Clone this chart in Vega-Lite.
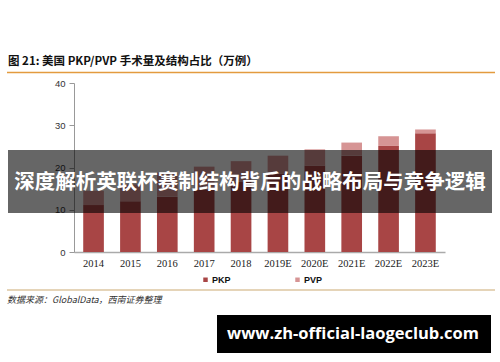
{
  "$schema": "https://vega.github.io/schema/vega-lite/v6.json",
  "width": 371,
  "height": 169,
  "autosize": {"type": "none"},
  "padding": {"left": 74, "top": 83, "right": 55, "bottom": 110},
  "background": "white",
  "config": {"view": {"stroke": null}},
  "layer": [
    {
      "data": {
        "values": [
          {"year": "2014", "type": "PKP", "value": 11.1},
          {"year": "2014", "type": "PVP", "value": 3.4},
          {"year": "2015", "type": "PKP", "value": 12.0},
          {"year": "2015", "type": "PVP", "value": 4.0},
          {"year": "2016", "type": "PKP", "value": 13.1},
          {"year": "2016", "type": "PVP", "value": 5.7},
          {"year": "2017", "type": "PKP", "value": 14.8},
          {"year": "2017", "type": "PVP", "value": 5.4},
          {"year": "2018", "type": "PKP", "value": 16.6},
          {"year": "2018", "type": "PVP", "value": 4.9},
          {"year": "2019E", "type": "PKP", "value": 18.5},
          {"year": "2019E", "type": "PVP", "value": 4.3},
          {"year": "2020E", "type": "PKP", "value": 20.4},
          {"year": "2020E", "type": "PVP", "value": 3.9},
          {"year": "2021E", "type": "PKP", "value": 22.8},
          {"year": "2021E", "type": "PVP", "value": 3.1},
          {"year": "2022E", "type": "PKP", "value": 25.1},
          {"year": "2022E", "type": "PVP", "value": 2.3},
          {"year": "2023E", "type": "PKP", "value": 28.1},
          {"year": "2023E", "type": "PVP", "value": 0.9}
        ]
      },
      "mark": {"type": "bar"},
      "encoding": {
        "x": {
          "field": "year",
          "type": "nominal",
          "sort": null,
          "scale": {"paddingInner": 0.44, "paddingOuter": 0.25},
          "axis": {
            "title": null,
            "labelAngle": 0,
            "labelFont": "Liberation Serif",
            "labelFontSize": 10.5,
            "labelColor": "#222",
            "ticks": false,
            "domainColor": "#aaaaaa",
            "domainWidth": 1.5,
            "labelPadding": 6
          }
        },
        "y": {
          "field": "value",
          "type": "quantitative",
          "stack": "zero",
          "scale": {"domain": [0, 40]},
          "axis": {
            "title": null,
            "values": [0, 10, 20, 30, 40],
            "grid": false,
            "labelFont": "Liberation Sans",
            "labelFontSize": 9.5,
            "labelColor": "#333333",
            "tickColor": "#999999",
            "tickSize": 5,
            "domainColor": "#999999",
            "labelPadding": 4
          }
        },
        "order": {"field": "type", "sort": "ascending"},
        "color": {
          "field": "type",
          "type": "nominal",
          "scale": {"domain": ["PKP", "PVP"], "range": ["#A84545", "#D69494"]},
          "legend": {
            "title": null,
            "orient": "none",
            "legendX": 127,
            "legendY": 192,
            "direction": "horizontal",
            "symbolType": "square",
            "symbolSize": 20,
            "symbolStrokeWidth": 0,
            "labelFont": "Liberation Sans",
            "labelFontSize": 9,
            "labelFontWeight": "bold",
            "labelColor": "#111111",
            "columnPadding": 62,
            "labelOffset": 2
          }
        }
      }
    },
    {
      "data": {"values": [{}]},
      "mark": {"type": "text", "text": "图 21:  美国 PKP/PVP 手术量及结构占比（万例）", "font": "Noto Sans CJK SC", "fontSize": 11.5, "fontWeight": "bold", "align": "left", "baseline": "middle", "color": "#111111"},
      "encoding": {"x": {"value": -66}, "y": {"value": -21}}
    },
    {
      "data": {"values": [{}]},
      "mark": {"type": "rule", "color": "#E39B3E", "strokeWidth": 1.5},
      "encoding": {"x": {"value": -67}, "x2": {"value": 421}, "y": {"value": -10.5}}
    },
    {
      "data": {"values": [{}]},
      "mark": {"type": "rule", "color": "#DCC6A0", "strokeWidth": 1.5},
      "encoding": {"x": {"value": -67}, "x2": {"value": 421}, "y": {"value": 207}}
    },
    {
      "data": {"values": [{}]},
      "mark": {"type": "text", "text": "数据来源：GlobalData，西南证券整理", "font": "Noto Sans CJK SC", "fontSize": 9, "fontStyle": "italic", "align": "left", "baseline": "middle", "color": "#333333"},
      "encoding": {"x": {"value": -67}, "y": {"value": 217}}
    },
    {
      "data": {"values": [{}]},
      "mark": {"type": "rect", "color": "black", "opacity": 0.6},
      "encoding": {"x": {"value": -66}, "x2": {"value": 418}, "y": {"value": 67}, "y2": {"value": 130}}
    },
    {
      "data": {"values": [{}]},
      "mark": {"type": "text", "text": "深度解析英联杯赛制结构背后的战略布局与竞争逻辑", "font": "Noto Sans CJK SC", "fontSize": 20.5, "fontWeight": "bold", "align": "center", "baseline": "middle", "color": "white"},
      "encoding": {"x": {"value": 176}, "y": {"value": 100}}
    },
    {
      "data": {"values": [{}]},
      "mark": {"type": "rect", "color": "black", "opacity": 1},
      "encoding": {"x": {"value": 143}, "x2": {"value": 417}, "y": {"value": 232}, "y2": {"value": 270}}
    },
    {
      "data": {"values": [{}]},
      "mark": {"type": "text", "text": "www.zh-official-laogeclub.com", "font": "Open Sans", "fontSize": 16.5, "fontWeight": "bold", "align": "center", "baseline": "middle", "color": "white"},
      "encoding": {"x": {"value": 279}, "y": {"value": 251}}
    }
  ]
}
